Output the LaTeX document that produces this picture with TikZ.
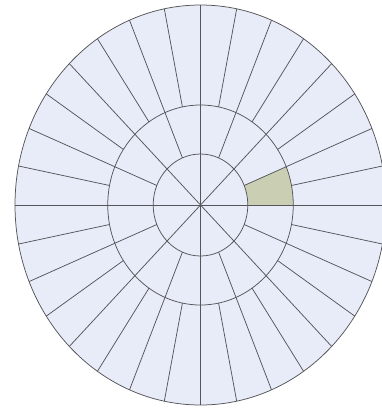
\documentclass[tikz,border=0pt]{standalone}
\definecolor{discfill}{RGB}{232,236,248}
\definecolor{cellfill}{RGB}{202,207,180}
\definecolor{gridline}{RGB}{85,85,90}
\begin{document}
\begin{tikzpicture}[x=1pt,y=1pt,
  grid/.style={draw=gridline,line width=0.75pt}]
\useasboundingbox[fill=white] (0,-410) rectangle (381,0);
\begin{scope}[shift={(200.5,-205)},xscale=0.9275]
  % disc
  \fill[discfill] (0,0) circle[radius=200];
  % shaded cell
  \fill[cellfill] (0:51) arc[start angle=0,end angle=22.5,radius=51]
     -- (22.5:100) arc[start angle=22.5,end angle=0,radius=100] -- cycle;
  % rings
  \draw[grid] (0,0) circle[radius=200];
  \draw[grid] (0,0) circle[radius=100];
  \draw[grid] (0,0) circle[radius=51];
  % full axes
  \draw[grid] (180:200) -- (0:200);
  \draw[grid] (90:200) -- (270:200);
  % inner diagonals
  \foreach \a in {45,135,225,315}
    \draw[grid] (0,0) -- (\a:100);
  % middle spokes
  \foreach \a in {22.5,67.5,...,337.5}
    \draw[grid] (\a:51) -- (\a:100);
  % outer spokes
  \foreach \k in {0,...,31}
    \draw[grid] ({\k*11.25}:100) -- ({\k*11.25}:200);
\end{scope}
\end{tikzpicture}
\end{document}
